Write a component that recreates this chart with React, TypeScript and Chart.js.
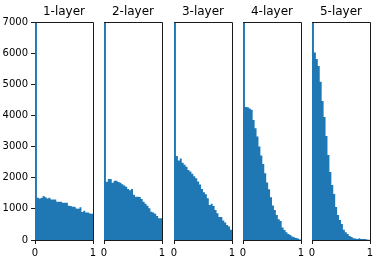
import React, { useEffect, useRef } from "react";
import { Chart, registerables } from "chart.js";

Chart.register(...registerables);

const TITLES = ["1-layer", "2-layer", "3-layer", "4-layer", "5-layer"];
const BIN_COUNT = 30;

const LAYER1 = [45000, 1360, 1330, 1360, 1410, 1370, 1330, 1360, 1300, 1300, 1300, 1230, 1230, 1230, 1200, 1200, 1200, 1100, 1090, 1070, 1070, 1010, 1000, 1050, 900, 940, 880, 880, 850, 840];
const LAYER2 = [36000, 1870, 1960, 1960, 1840, 1900, 1900, 1860, 1840, 1790, 1750, 1710, 1640, 1600, 1640, 1450, 1390, 1390, 1380, 1320, 1230, 1160, 1100, 1020, 910, 880, 840, 770, 700, 700];
const LAYER3 = [29000, 2700, 2550, 2620, 2480, 2420, 2350, 2250, 2200, 2130, 2050, 1980, 1880, 1780, 1640, 1530, 1470, 1340, 1120, 1160, 1090, 960, 860, 740, 740, 630, 560, 480, 430, 330];
const LAYER4 = [24000, 4270, 4260, 4220, 4180, 3850, 3590, 3320, 3000, 2710, 2440, 2140, 1850, 1630, 1370, 1110, 960, 800, 670, 610, 400, 320, 250, 190, 160, 110, 85, 65, 45, 20];
const LAYER5 = [16000, 6020, 5810, 5590, 5080, 4460, 3950, 3340, 2730, 2180, 1770, 1480, 1060, 800, 640, 510, 330, 250, 190, 130, 100, 60, 50, 30, 60, 30, 30, 30, 20, 10];

const SERIES = [LAYER1, LAYER2, LAYER3, LAYER4, LAYER5];
const Y_TICKS = [0, 1000, 2000, 3000, 4000, 5000, 6000, 7000];
const X_TICKS = [0, 1];

const AX_LEFT = [35, 104, 174, 243, 312];
const AX_WIDTH = 58;
const Y_AXIS_W = 35;
const RIGHT_PAD = 10;
const FONT = "DejaVu Sans";
const SPINE = "#1a1a1a";

const framePlugin = {
  id: "frame",
  afterDraw(chart: any) {
    const { ctx, chartArea } = chart;
    const t = Math.round(chartArea.top - 0.5) + 0.5;
    const r = Math.round(chartArea.right - 0.5) + 0.5;
    ctx.save();
    ctx.strokeStyle = SPINE;
    ctx.lineWidth = 1;
    ctx.beginPath();
    ctx.moveTo(chartArea.left, t);
    ctx.lineTo(r, t);
    ctx.lineTo(r, chartArea.bottom + 1);
    ctx.stroke();
    ctx.restore();
  },
};

// histogram bins drawn as a stepped, filled outline: bin k spans [k/N, (k+1)/N]
function histPoints(values: number[]) {
  const pts = values.map((v, k) => ({ x: k / BIN_COUNT, y: v }));
  pts.push({ x: 1, y: values[values.length - 1] });
  return pts;
}

function Sub({ index }: { index: number }) {
  const ref = useRef<HTMLCanvasElement>(null);
  useEffect(() => {
    const values = SERIES[index];
    const first = index === 0;
    const chart = new Chart(ref.current!, {
      type: "line",
      data: {
        datasets: [
          {
            data: histPoints(values),
            stepped: "before",
            fill: "origin",
            backgroundColor: "#1f77b4",
            borderColor: "#1f77b4",
            borderWidth: 0,
            pointRadius: 0,
            clip: 0,
          } as any,
        ],
      },
      options: {
        animation: false,
        responsive: false,
        maintainAspectRatio: false,
        events: [],
        layout: { padding: { left: 0, right: RIGHT_PAD, top: 0, bottom: 0 } },
        plugins: {
          legend: { display: false },
          tooltip: { enabled: false },
          title: {
            display: true,
            text: TITLES[index],
            fullSize: false,
            color: "#000",
            font: { family: FONT, size: 12, weight: "normal" as any, lineHeight: 1.2 },
            padding: { top: 4.5, bottom: 3.1 },
          },
        },
        scales: {
          x: {
            type: "linear",
            min: 0,
            max: 1,
            offset: false,
            afterBuildTicks: (s: any) => {
              s.ticks = X_TICKS.map((v) => ({ value: v }));
            },
            afterFit: (s: any) => {
              s.height = 34;
            },
            ticks: {
              color: "#000",
              font: { family: FONT, size: 10 },
              padding: 3,
              maxRotation: 0,
              autoSkip: false,
              callback: (v: any) => String(v),
            },
            grid: { drawOnChartArea: false, drawTicks: true, tickLength: 4, color: SPINE, offset: false },
            border: { display: true, color: SPINE, width: 1 },
          },
          y: {
            type: "linear",
            min: 0,
            max: 7000,
            afterBuildTicks: (s: any) => {
              s.ticks = Y_TICKS.map((v) => ({ value: v }));
            },
            afterFit: (s: any) => {
              s.width = Y_AXIS_W;
            },
            ticks: {
              display: first,
              color: "#000",
              font: { family: FONT, size: 10 },
              padding: 3,
              autoSkip: false,
              callback: (v: any) => String(v),
            },
            grid: { drawOnChartArea: false, drawTicks: first, tickLength: 4, color: SPINE },
            border: { display: true, color: SPINE, width: 1 },
          },
        },
      } as any,
      plugins: [framePlugin],
    });
    return () => chart.destroy();
  }, [index]);

  const left = AX_LEFT[index] - Y_AXIS_W;
  const width = Y_AXIS_W + AX_WIDTH + RIGHT_PAD;
  return (
    <div style={{ position: "absolute", left, top: 0, width, height: 274 }}>
      <canvas ref={ref} width={width} height={274} style={{ display: "block" }} />
    </div>
  );
}

export default function App() {
  return (
    <div style={{ position: "absolute", left: 0, top: 0, width: 385, height: 274, background: "#fff", overflow: "hidden" }}>
      {TITLES.map((_, i) => (
        <Sub key={i} index={i} />
      ))}
    </div>
  );
}
